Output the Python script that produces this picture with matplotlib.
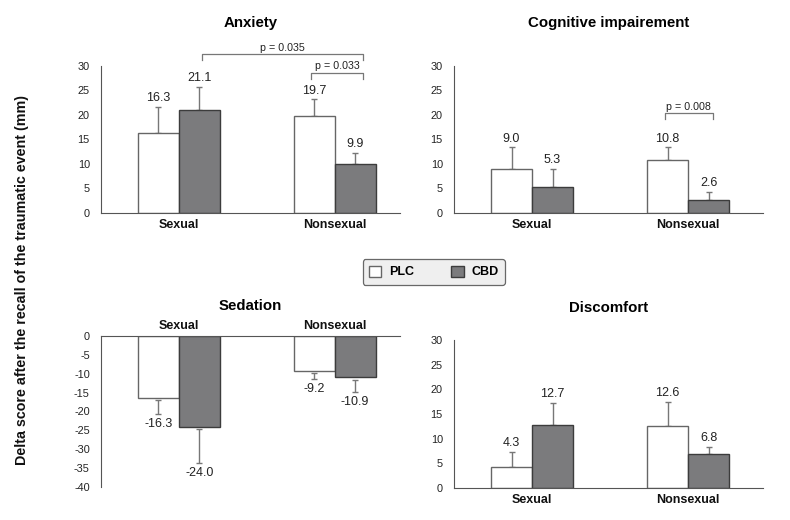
import numpy as np
import matplotlib
matplotlib.use("Agg")
import matplotlib.pyplot as plt
from matplotlib.patches import Patch

plt.rcParams['font.family'] = ['Liberation Sans', 'DejaVu Sans']
plt.rcParams['axes.unicode_minus'] = False

groups = ["Sexual", "Nonsexual"]
series = ["PLC", "CBD"]

# means and (one-sided) error for each panel: [PLC, CBD] per group
anxiety_plc = [16.3, 19.7]
anxiety_cbd = [21.1, 9.9]
anxiety_plc_err = [5.3, 3.5]
anxiety_cbd_err = [4.6, 2.4]

cognitive_plc = [9.0, 10.8]
cognitive_cbd = [5.3, 2.6]
cognitive_plc_err = [4.4, 2.6]
cognitive_cbd_err = [3.7, 1.7]

sedation_plc = [-16.3, -9.2]
sedation_cbd = [-24.0, -10.9]
sedation_plc_err = [4.4, 2.2]
sedation_cbd_err = [9.6, 3.9]

discomfort_plc = [4.3, 12.6]
discomfort_cbd = [12.7, 6.8]
discomfort_plc_err = [3.0, 4.8]
discomfort_cbd_err = [4.6, 1.5]

# significance brackets: (x left, x right, height, label)
anxiety_sig = [(0.15, 1.18, 32.4, "p = 0.035"), (0.85, 1.18, 28.6, "p = 0.033")]
cognitive_sig = [(0.85, 1.16, 20.4, "p = 0.008")]

WHITE = "white"
GREY = "#7b7b7d"
EDGE_W = "#666666"
EDGE_G = "#3c3c3c"
ERR = "#777777"
AXC = "#555555"
W = 0.263

fig = plt.figure(figsize=(7.9, 5.2), dpi=100)


def draw_panel(rect, title, plc, cbd, plc_err, cbd_err, xlim, negative=False, sig=()):
    ax = fig.add_axes(rect)
    x = np.arange(len(groups))
    for vals, errs, off, fc, ec in [(plc, plc_err, -W / 2, WHITE, EDGE_W),
                                   (cbd, cbd_err, W / 2, GREY, EDGE_G)]:
        ax.bar(x + off, vals, W, color=fc, edgecolor=ec, linewidth=1.0, zorder=2)
        for xi, v, e in zip(x + off, vals, errs):
            if negative:
                gap = 0.7
                lo, hi = v - e, v - gap
                ax.errorbar(xi, (lo + hi) / 2, yerr=(hi - lo) / 2, color=ERR,
                            capsize=2.5, elinewidth=1, capthick=1, zorder=3)
                ax.annotate(f"{v:.1f}", (xi, v - e), xytext=(0, -3),
                            textcoords="offset points", ha="center", va="top",
                            fontsize=9, color="#222222")
            else:
                ax.errorbar(xi, v, yerr=[[0], [e]], color=ERR, capsize=2.5,
                            elinewidth=1, capthick=1, zorder=1)
                ax.annotate(f"{v:.1f}", (xi, v + e), xytext=(0, 2),
                            textcoords="offset points", ha="center", va="bottom",
                            fontsize=9, color="#222222")
    for x0, x1, h, lab in sig:
        ax.plot([x0, x0, x1, x1], [h - 1.2, h, h, h - 1.2], color="#777777",
                lw=0.9, clip_on=False)
        ax.text((x0 + x1) / 2, h + 0.3, lab, ha="center", va="bottom",
                fontsize=7.7, color="#222222")
    ax.set_xlim(*xlim)
    ax.set_xticks(x)
    ax.set_xticklabels(groups, fontweight="bold", fontsize=9)
    ax.spines["right"].set_visible(False)
    if negative:
        ax.set_ylim(-40, 0)
        ax.set_yticks(np.arange(-40, 1, 5))
        ax.spines["bottom"].set_visible(False)
        ax.xaxis.set_ticks_position("top")
        ax.tick_params(axis="x", length=0, pad=3)
        ax.set_title(title, fontweight="bold", fontsize=10.8, pad=19)
    else:
        ax.set_ylim(0, 30)
        ax.set_yticks(np.arange(0, 31, 5))
        ax.spines["top"].set_visible(False)
        ax.tick_params(axis="x", length=0, pad=4)
        pad = 28 if sig else 20
        ax.set_title(title, fontweight="bold", fontsize=10.8, pad=pad)
    for s in ax.spines.values():
        s.set_color(AXC)
    ax.tick_params(axis="y", length=0, pad=8, labelsize=7.8, labelcolor="#222222")
    ax.tick_params(axis="x", labelcolor="#111111")
    return ax


draw_panel([0.1278, 0.5904, 0.3785, 0.2827], "Anxiety", anxiety_plc, anxiety_cbd,
           anxiety_plc_err, anxiety_cbd_err, (-0.5, 1.42), sig=anxiety_sig)
draw_panel([0.5747, 0.5904, 0.391, 0.2827], "Cognitive impairement", cognitive_plc,
           cognitive_cbd, cognitive_plc_err, cognitive_cbd_err, (-0.5, 1.48),
           sig=cognitive_sig)
draw_panel([0.1278, 0.0635, 0.3785, 0.2904], "Sedation", sedation_plc, sedation_cbd,
           sedation_plc_err, sedation_cbd_err, (-0.5, 1.42), negative=True)
draw_panel([0.5747, 0.0615, 0.391, 0.2846], "Discomfort", discomfort_plc,
           discomfort_cbd, discomfort_plc_err, discomfort_cbd_err, (-0.5, 1.48))

handles = [Patch(facecolor=WHITE, edgecolor=EDGE_W, label=series[0]),
           Patch(facecolor=GREY, edgecolor=EDGE_G, label=series[1])]
leg = fig.legend(handles=handles, loc="center", bbox_to_anchor=(0.549, 0.477), ncol=2,
                 frameon=True, fancybox=True, facecolor="#ebebeb", edgecolor="#444444",
                 prop={"weight": "bold", "size": 9}, handlelength=1.0, handleheight=1.0,
                 columnspacing=3.0, borderpad=0.5, handletextpad=0.6)
leg.get_frame().set_linewidth(0.9)

fig.text(0.028, 0.462, "Delta score after the recall of the traumatic event (mm)",
         rotation=90, ha="center", va="center", fontweight="bold", fontsize=10.3,
         color="#111111")

fig.savefig("out.png", dpi=100)
